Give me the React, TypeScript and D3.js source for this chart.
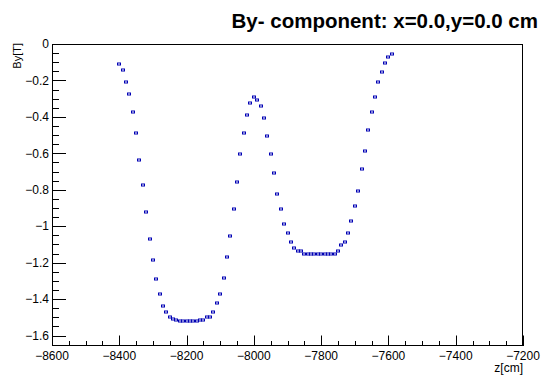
import React from "react";
import * as d3 from "d3";

// Field map along the beam line: z position [cm] and By [T]
const zPositions: number[] = [
  -8400, -8390, -8380, -8370, -8360, -8350, -8340, -8330, -8320, -8310,
  -8300, -8290, -8280, -8270, -8260, -8250, -8240, -8230, -8220, -8210,
  -8200, -8190, -8180, -8170, -8160, -8150, -8140, -8130, -8120, -8110,
  -8100, -8090, -8080, -8070, -8060, -8050, -8040, -8030, -8020, -8010,
  -8000, -7990, -7980, -7970, -7960, -7950, -7940, -7930, -7920, -7910,
  -7900, -7890, -7880, -7870, -7860, -7850, -7840, -7830, -7820, -7810,
  -7800, -7790, -7780, -7770, -7760, -7750, -7740, -7730, -7720, -7710,
  -7700, -7690, -7680, -7670, -7660, -7650, -7640, -7630, -7620, -7610,
  -7600, -7590,
];

const byValues: number[] = [
  -0.108, -0.141, -0.207, -0.273, -0.373, -0.488, -0.638, -0.772, -0.922, -1.071,
  -1.187, -1.288, -1.370, -1.436, -1.470, -1.501, -1.512, -1.517, -1.519, -1.520,
  -1.520, -1.520, -1.520, -1.519, -1.517, -1.513, -1.501, -1.501, -1.470, -1.419,
  -1.370, -1.287, -1.170, -1.053, -0.905, -0.755, -0.605, -0.490, -0.389, -0.324,
  -0.289, -0.307, -0.340, -0.406, -0.506, -0.605, -0.706, -0.821, -0.903, -0.987,
  -1.037, -1.088, -1.121, -1.137, -1.137, -1.152, -1.154, -1.154, -1.155, -1.155,
  -1.155, -1.155, -1.154, -1.154, -1.152, -1.137, -1.104, -1.088, -1.037, -0.971,
  -0.889, -0.805, -0.687, -0.589, -0.472, -0.373, -0.291, -0.207, -0.155, -0.106,
  -0.073, -0.057,
];

const xTickValues: number[] = [-8600, -8400, -8200, -8000, -7800, -7600, -7400, -7200];
const yTickValues: number[] = [0, -0.2, -0.4, -0.6, -0.8, -1, -1.2, -1.4, -1.6];

const titleText = "By- component: x=0.0,y=0.0 cm";
const xTitle = "z[cm]";
const yTitle = "By[T]";

const W = 541;
const H = 376;
const frame = { left: 52, right: 523, top: 44, bottom: 346 };
const FONT = "'Liberation Sans', Arial, Helvetica, sans-serif";

const fmt = (v: number) => {
  const s = d3.format("")(+v.toFixed(6));
  return s.replace("-", "\u2212");
};

export default function App() {
  const x = d3.scaleLinear().domain([-8600, -7200]).range([frame.left, frame.right]);
  const y = d3.scaleLinear().domain([-1.6576, 0]).range([frame.bottom, frame.top]);

  const xMinor = d3.range(-8600, -7200 + 1, 50);
  const yMinor = d3.range(0, 66).map((i) => -i * 0.05).filter((v) => v >= -1.6576);

  const majorX = 10.5;
  const minorX = 5;
  const majorY = 14;
  const minorY = 7;

  return (
    <div style={{ position: "absolute", left: 0, top: 0 }}>
      <svg width={W} height={H} style={{ display: "block", background: "#fff" }}>
        <rect x={0} y={0} width={W} height={H} fill="#fff" />
        {/* frame */}
        <rect
          x={frame.left + 0.5}
          y={frame.top + 0.5}
          width={frame.right - frame.left - 1}
          height={frame.bottom - frame.top - 1}
          fill="none"
          stroke="#000"
          strokeWidth={1}
        />
        {/* x-axis ticks */}
        {xMinor.map((v) => {
          const isMajor = Math.abs(v % 200) < 1e-6;
          const px = Math.round(x(v)) + 0.5;
          return (
            <line
              key={"xt" + v}
              x1={px}
              x2={px}
              y1={frame.bottom}
              y2={frame.bottom - (isMajor ? majorX : minorX)}
              stroke="#000"
              strokeWidth={1}
            />
          );
        })}
        {/* y-axis ticks */}
        {yMinor.map((v, i) => {
          const isMajor = i % 4 === 0;
          const py = Math.round(y(v)) + 0.5;
          return (
            <line
              key={"yt" + i}
              x1={frame.left}
              x2={frame.left + (isMajor ? majorY : minorY)}
              y1={py}
              y2={py}
              stroke="#000"
              strokeWidth={1}
            />
          );
        })}
        {/* x tick labels */}
        {xTickValues.map((v) => (
          <text
            key={"xl" + v}
            x={x(v)}
            y={359.5}
            textAnchor="middle"
            fontFamily={FONT}
            fontSize={12}
            fill="#000"
          >
            {fmt(v)}
          </text>
        ))}
        {/* y tick labels */}
        {yTickValues.map((v) => (
          <text
            key={"yl" + v}
            x={49}
            y={y(v)}
            dy="0.35em"
            textAnchor="end"
            fontFamily={FONT}
            fontSize={12}
            fill="#000"
          >
            {fmt(v)}
          </text>
        ))}
        {/* axis titles */}
        <text
          x={frame.right}
          y={372}
          textAnchor="end"
          fontFamily={FONT}
          fontSize={12}
          fill="#000"
        >
          {xTitle}
        </text>
        <text
          transform={`translate(21,${frame.top - 1}) rotate(-90)`}
          textAnchor="end"
          fontFamily={FONT}
          fontSize={11}
          fill="#000"
        >
          {yTitle}
        </text>
        {/* title */}
        <text
          x={538}
          y={28}
          textAnchor="end"
          fontFamily={FONT}
          fontWeight="bold"
          fontSize={20.5}
          fill="#000"
        >
          {titleText}
        </text>
        {/* markers */}
        <g>
          {zPositions.map((z, i) => (
            <rect
              key={"m" + i}
              x={Math.round(x(z)) - 1.5}
              y={Math.round(y(byValues[i])) - 1}
              width={3}
              height={2}
              fill="none"
              stroke="#0000b4"
              strokeWidth={1}
            />
          ))}
        </g>
      </svg>
    </div>
  );
}
